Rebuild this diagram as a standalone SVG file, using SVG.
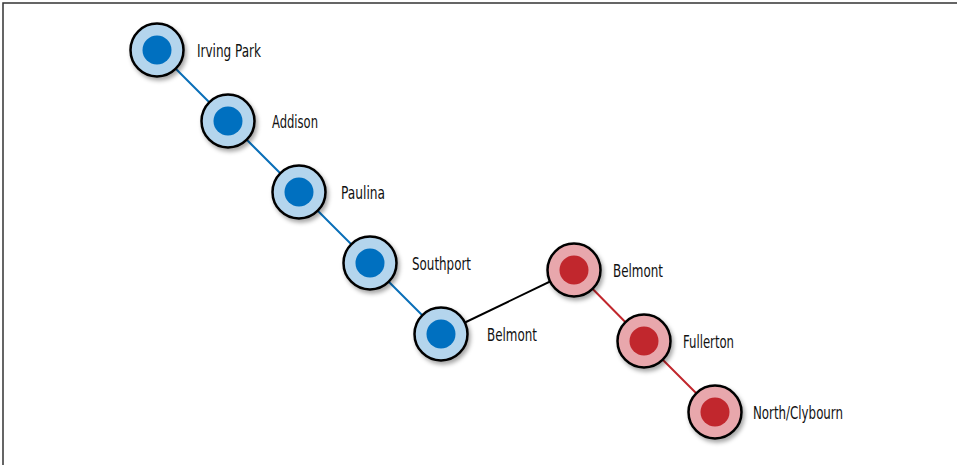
<svg xmlns="http://www.w3.org/2000/svg" width="957" height="465" viewBox="0 0 957 465">
  <defs>
    <filter id="shadow" x="-30%" y="-30%" width="160%" height="160%">
      <feDropShadow dx="2" dy="3" stdDeviation="2" flood-color="#000" flood-opacity="0.35"/>
    </filter>
  </defs>
  <style>
    .ring { stroke: #000; stroke-width: 2.5; filter: url(#shadow); }
    .blue .ring { fill: #b4d5ed; }
    .blue .core { fill: #0070c0; }
    .red .ring { fill: #e8a7ac; }
    .red .core { fill: #c1272d; }
    .label { font-family: "Liberation Sans Narrow", "DejaVu Sans Condensed", "Liberation Sans", sans-serif; font-size: 17px; fill: #111; }
    .edge { fill: none; stroke-width: 2; }
  </style>
  <rect width="957" height="465" fill="#fff"/>
  <path d="M3 465 V3 H957" fill="none" stroke="#333" stroke-width="1.5"/>

  <g id="connectors">
    <polyline class="edge" stroke="#0a6fb8" points="157,50 228,121 299,192 370,263 441,334"/>
    <line class="edge" stroke="#000" x1="441" y1="334" x2="574" y2="270"/>
    <polyline class="edge" stroke="#c1272d" points="574,270 644,341 715,412"/>
  </g>

  <g id="irving-park" class="blue">
    <circle class="ring" cx="157" cy="50" r="26.5"/>
    <circle class="core" cx="157" cy="50" r="14.5"/>
    <text class="label" x="197" y="56.5" textLength="64" lengthAdjust="spacingAndGlyphs">Irving Park</text>
  </g>
  <g id="addison" class="blue">
    <circle class="ring" cx="228" cy="121" r="26.5"/>
    <circle class="core" cx="228" cy="121" r="14.5"/>
    <text class="label" x="272" y="127.5" textLength="46" lengthAdjust="spacingAndGlyphs">Addison</text>
  </g>
  <g id="paulina" class="blue">
    <circle class="ring" cx="299" cy="192" r="26.5"/>
    <circle class="core" cx="299" cy="192" r="14.5"/>
    <text class="label" x="341" y="198.5" textLength="44" lengthAdjust="spacingAndGlyphs">Paulina</text>
  </g>
  <g id="southport" class="blue">
    <circle class="ring" cx="370" cy="263" r="26.5"/>
    <circle class="core" cx="370" cy="263" r="14.5"/>
    <text class="label" x="412" y="269.5" textLength="59" lengthAdjust="spacingAndGlyphs">Southport</text>
  </g>
  <g id="belmont-brown" class="blue">
    <circle class="ring" cx="441" cy="334" r="26.5"/>
    <circle class="core" cx="441" cy="334" r="14.5"/>
    <text class="label" x="487" y="340.5" textLength="50" lengthAdjust="spacingAndGlyphs">Belmont</text>
  </g>
  <g id="belmont-red" class="red">
    <circle class="ring" cx="574" cy="270" r="26.5"/>
    <circle class="core" cx="574" cy="270" r="14.5"/>
    <text class="label" x="613" y="276.5" textLength="50" lengthAdjust="spacingAndGlyphs">Belmont</text>
  </g>
  <g id="fullerton" class="red">
    <circle class="ring" cx="644" cy="341" r="26.5"/>
    <circle class="core" cx="644" cy="341" r="14.5"/>
    <text class="label" x="683" y="347.5" textLength="51" lengthAdjust="spacingAndGlyphs">Fullerton</text>
  </g>
  <g id="north-clybourn" class="red">
    <circle class="ring" cx="715" cy="412" r="26.5"/>
    <circle class="core" cx="715" cy="412" r="14.5"/>
    <text class="label" x="753" y="418.5" textLength="90" lengthAdjust="spacingAndGlyphs">North/Clybourn</text>
  </g>
</svg>
